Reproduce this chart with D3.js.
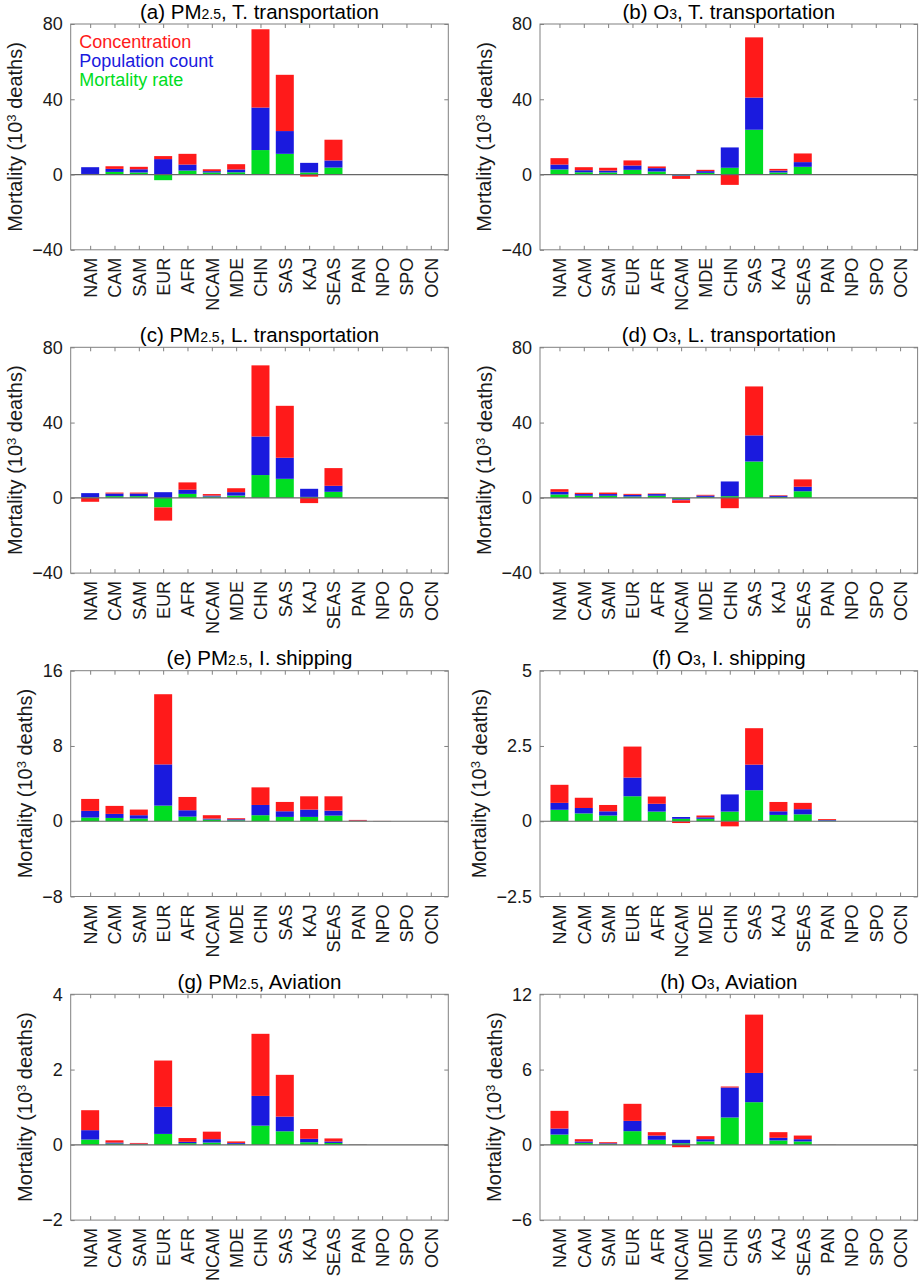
<!DOCTYPE html>
<html>
<head>
<meta charset="utf-8">
<script src="https://cdn.jsdelivr.net/npm/d3@7"></script>
<style>
  body { margin: 0; background: #fff; }
  svg { font-family: "Liberation Sans", Arial, sans-serif; }
</style>
</head>
<body>
<script>
var regions = ["NAM", "CAM", "SAM", "EUR", "AFR", "NCAM", "MDE", "CHN", "SAS", "KAJ", "SEAS", "PAN", "NPO", "SPO", "OCN"];

// (a) PM2.5, T. transportation
var mortA = [0.3, 1.4, 1.1, -3.0, 2.1, 1.1, 1.2, 13.0, 11.0, 1.1, 3.7, 0, 0, 0, 0];
var popA  = [3.6, 1.6, 1.7, 8.2, 3.2, 0.7, 1.5, 22.6, 12.1, 5.1, 3.8, 0, 0, 0, 0];
var concA = [0, 1.4, 1.3, 1.6, 5.7, 1.0, 2.8, 41.6, 29.9, -1.1, 11.0, 0, 0, 0, 0];

// (b) O3, T. transportation
var mortB = [2.7, 1.2, 1.1, 2.5, 1.6, -0.5, 0.9, 3.6, 23.8, 1.1, 4.1, 0, 0, 0, 0];
var popB  = [2.6, 1.1, 1.0, 2.3, 1.8, -0.3, 0.9, 10.8, 17.1, 1.0, 2.5, 0, 0, 0, 0];
var concB = [3.4, 1.6, 1.5, 2.7, 0.9, -1.5, 0.7, -5.5, 32.0, 0.9, 4.6, 0, 0, 0, 0];

// (c) PM2.5, L. transportation
var mortC = [0.3, 0.9, 0.9, -5.1, 2.1, 0.7, 1.2, 12.1, 10.1, 0.5, 3.2, 0, 0, 0, 0];
var popC  = [2.2, 1.4, 1.4, 3.0, 2.2, 0.5, 1.8, 20.5, 11.2, 4.3, 3.2, 0, 0, 0, 0];
var concC = [-2.1, 0.5, 0.5, -7.0, 3.9, 0.8, 2.1, 37.8, 27.6, -2.8, 9.4, 0, 0, 0, 0];

// (d) O3, L. transportation
var mortD = [1.8, 1.1, 1.1, 0.7, 1.1, -0.8, 0.5, 0.9, 19.3, 0.5, 3.5, 0, 0, 0, 0];
var popD  = [1.4, 0.9, 0.9, 0.9, 0.9, -0.5, 0.7, 7.8, 13.9, 0.6, 2.4, 0, 0, 0, 0];
var concD = [1.4, 0.7, 0.8, 0.5, 0.3, -1.4, 0.4, -5.5, 26.0, 0.3, 3.9, 0, 0, 0, 0];

// (e) PM2.5, I. shipping
var mortE = [0.39, 0.35, 0.28, 1.66, 0.49, 0.18, 0.10, 0.64, 0.46, 0.46, 0.60, 0.03, 0.01, 0, 0];
var popE  = [0.71, 0.43, 0.36, 4.38, 0.68, 0.10, 0.11, 1.09, 0.60, 0.78, 0.53, 0.04, 0.01, 0, 0];
var concE = [1.27, 0.85, 0.60, 7.46, 1.41, 0.36, 0.11, 1.87, 0.99, 1.41, 1.52, 0.07, 0.01, 0, 0];

// (f) O3, I. shipping
var mortF = [0.38, 0.26, 0.19, 0.83, 0.32, 0.08, 0.08, 0.32, 1.03, 0.21, 0.23, 0.02, 0, 0, 0];
var popF  = [0.23, 0.18, 0.14, 0.62, 0.26, 0.06, 0.05, 0.57, 0.85, 0.12, 0.17, 0.02, 0, 0, 0];
var concF = [0.60, 0.34, 0.21, 1.03, 0.24, -0.06, 0.06, -0.17, 1.21, 0.31, 0.21, 0.03, 0, 0, 0];

// (g) PM2.5, Aviation
var mortG = [0.14, 0.035, 0.015, 0.29, 0.045, 0.06, 0.027, 0.51, 0.36, 0.07, 0.05, 0.003, 0, 0, 0];
var popG  = [0.25, 0.025, 0.015, 0.72, 0.035, 0.09, 0.023, 0.79, 0.39, 0.09, 0.04, 0.002, 0, 0, 0];
var concG = [0.53, 0.06, 0.02, 1.23, 0.10, 0.20, 0.04, 1.65, 1.11, 0.26, 0.08, 0.003, 0, 0, 0];

// (h) O3, Aviation
var mortH = [0.82, 0.16, 0.08, 1.09, 0.40, 0.13, 0.27, 2.18, 3.40, 0.35, 0.27, 0.005, 0, 0, 0];
var popH  = [0.48, 0.11, 0.05, 0.82, 0.34, 0.27, 0.18, 2.39, 2.33, 0.21, 0.18, 0.003, 0, 0, 0];
var concH = [1.41, 0.18, 0.08, 1.36, 0.27, -0.19, 0.24, 0.08, 4.65, 0.45, 0.29, 0.005, 0, 0, 0];

// y ranges and ticks per panel
var ticksA = [-40, 0, 40, 80];
var ticksE = [-8, 0, 8, 16];
var ticksF = [-2.5, 0, 2.5, 5];
var ticksG = [-2, 0, 2, 4];
var ticksH = [-6, 0, 6, 12];

var seriesNames = ["Mortality rate", "Population count", "Concentration"];
var colors = ["#00dd22", "#1a1ade", "#ff1a1a"];

var panels = [
    {tag: "(a)", sp: "PM", sub: "2.5", src: "T. transportation", s: [mortA, popA, concA], ticks: ticksA, legend: true},
    {tag: "(b)", sp: "O", sub: "3", src: "T. transportation", s: [mortB, popB, concB], ticks: ticksA},
    {tag: "(c)", sp: "PM", sub: "2.5", src: "L. transportation", s: [mortC, popC, concC], ticks: ticksA},
    {tag: "(d)", sp: "O", sub: "3", src: "L. transportation", s: [mortD, popD, concD], ticks: ticksA},
    {tag: "(e)", sp: "PM", sub: "2.5", src: "I. shipping", s: [mortE, popE, concE], ticks: ticksE},
    {tag: "(f)", sp: "O", sub: "3", src: "I. shipping", s: [mortF, popF, concF], ticks: ticksF},
    {tag: "(g)", sp: "PM", sub: "2.5", src: "Aviation", s: [mortG, popG, concG], ticks: ticksG},
    {tag: "(h)", sp: "O", sub: "3", src: "Aviation", s: [mortH, popH, concH], ticks: ticksH}
];

var W = 920, H = 1283;
var colLeft = [70.7, 540];
var rowTop = [24, 347.3, 670.7, 994.3];
var pw = 377.6, ph = 225.8;
var frameColor = "#808080";

var svg = d3.select("body")
    .append("svg")
        .attr("width", W)
        .attr("height", H);

var fmt = function(d) { return d < 0 ? "\u2212" + Math.abs(d) : String(d); };

panels.forEach(function(p, k) {
    var g = svg.append("g")
        .attr("transform", "translate(" + colLeft[k % 2] + "," + rowTop[Math.floor(k / 2)] + ")");

    var x = d3.scaleLinear().domain([0.2, 15.72]).range([0, pw]);
    var y = d3.scaleLinear().domain([p.ticks[0], p.ticks[p.ticks.length - 1]]).range([ph, 0]);
    var bw = x(0.74) - x(0);

    // stack: positive parts upward, negative parts downward, from zero
    var rects = [];
    regions.forEach(function(r, i) {
        var pos = 0, neg = 0;
        p.s.forEach(function(arr, j) {
            var v = arr[i];
            if (v >= 0) { rects.push({i: i, j: j, y0: pos, y1: pos + v}); pos += v; }
            else { rects.push({i: i, j: j, y0: neg + v, y1: neg}); neg += v; }
        });
    });

    g.selectAll("rect.bar")
        .data(rects.filter(function(d) { return d.y1 - d.y0 > 0; }))
        .enter().append("rect")
            .attr("class", "bar")
            .attr("x", function(d) { return x(d.i + 1) - bw / 2; })
            .attr("width", bw)
            .attr("y", function(d) { return y(d.y1); })
            .attr("height", function(d) { return y(d.y0) - y(d.y1); })
            .style("fill", function(d) { return colors[d.j]; });

    // zero line
    g.append("line")
        .attr("x1", 0).attr("x2", pw)
        .attr("y1", y(0)).attr("y2", y(0))
        .style("stroke", "#666")
        .style("stroke-width", 1.2);

    // axes, ticks pointing inward on all four sides
    var yl = g.append("g")
        .call(d3.axisLeft(y).tickValues(p.ticks).tickFormat(fmt).tickSize(-4).tickPadding(8).tickSizeOuter(0));
    g.append("g")
        .attr("transform", "translate(" + pw + ",0)")
        .call(d3.axisRight(y).tickValues(p.ticks).tickFormat("").tickSize(-4).tickSizeOuter(0));
    var xl = g.append("g")
        .attr("transform", "translate(0," + ph + ")")
        .call(d3.axisBottom(x).tickValues(d3.range(1, 16)).tickFormat(function(d) { return regions[d - 1]; })
            .tickSize(-4).tickPadding(8).tickSizeOuter(0));
    g.append("g")
        .call(d3.axisTop(x).tickValues(d3.range(1, 16)).tickFormat("").tickSize(-4).tickSizeOuter(0));

    g.selectAll(".domain").remove();
    g.selectAll(".tick line").style("stroke", frameColor);

    yl.selectAll("text")
        .style("font-size", "18px")
        .style("fill", "#1a1a1a")
        .style("font-family", "Liberation Sans, Arial, sans-serif");

    xl.selectAll("text")
        .attr("transform", "rotate(-90)")
        .attr("x", -8)
        .attr("y", 0)
        .attr("dy", "0.36em")
        .style("text-anchor", "end")
        .style("font-size", "18px")
        .style("fill", "#1a1a1a")
        .style("font-family", "Liberation Sans, Arial, sans-serif");

    // box
    g.append("rect")
        .attr("width", pw).attr("height", ph)
        .style("fill", "none")
        .style("stroke", frameColor)
        .style("stroke-width", 1);

    // title
    var t = g.append("text")
        .attr("x", pw / 2)
        .attr("y", -5.5)
        .style("text-anchor", "middle")
        .style("font-size", "20.5px")
        .style("fill", "#000");
    t.append("tspan").text(p.tag + " " + p.sp);
    t.append("tspan").style("font-size", "14px").text(p.sub);
    t.append("tspan").text(", " + p.src);

    // y label, placed left of the tick labels
    var bb = yl.node().getBBox();
    var ylab = g.append("text")
        .attr("transform", "translate(" + (bb.x - 10) + "," + (ph / 2) + ") rotate(-90)")
        .style("text-anchor", "middle")
        .style("font-size", "20px")
        .style("fill", "#1a1a1a");
    ylab.append("tspan").text("Mortality (10");
    ylab.append("tspan").attr("dy", "-0.5em").style("font-size", "13px").text("3");
    ylab.append("tspan").attr("dy", "0.33em").text(" deaths)");

    if (p.legend) {
        [2, 1, 0].forEach(function(j, n) {
            g.append("text")
                .attr("x", 8.5)
                .attr("y", 24.3 + n * 19)
                .style("font-size", "18px")
                .style("fill", colors[j])
                .text(seriesNames[j]);
        });
    }
});
</script>
</body>
</html>
